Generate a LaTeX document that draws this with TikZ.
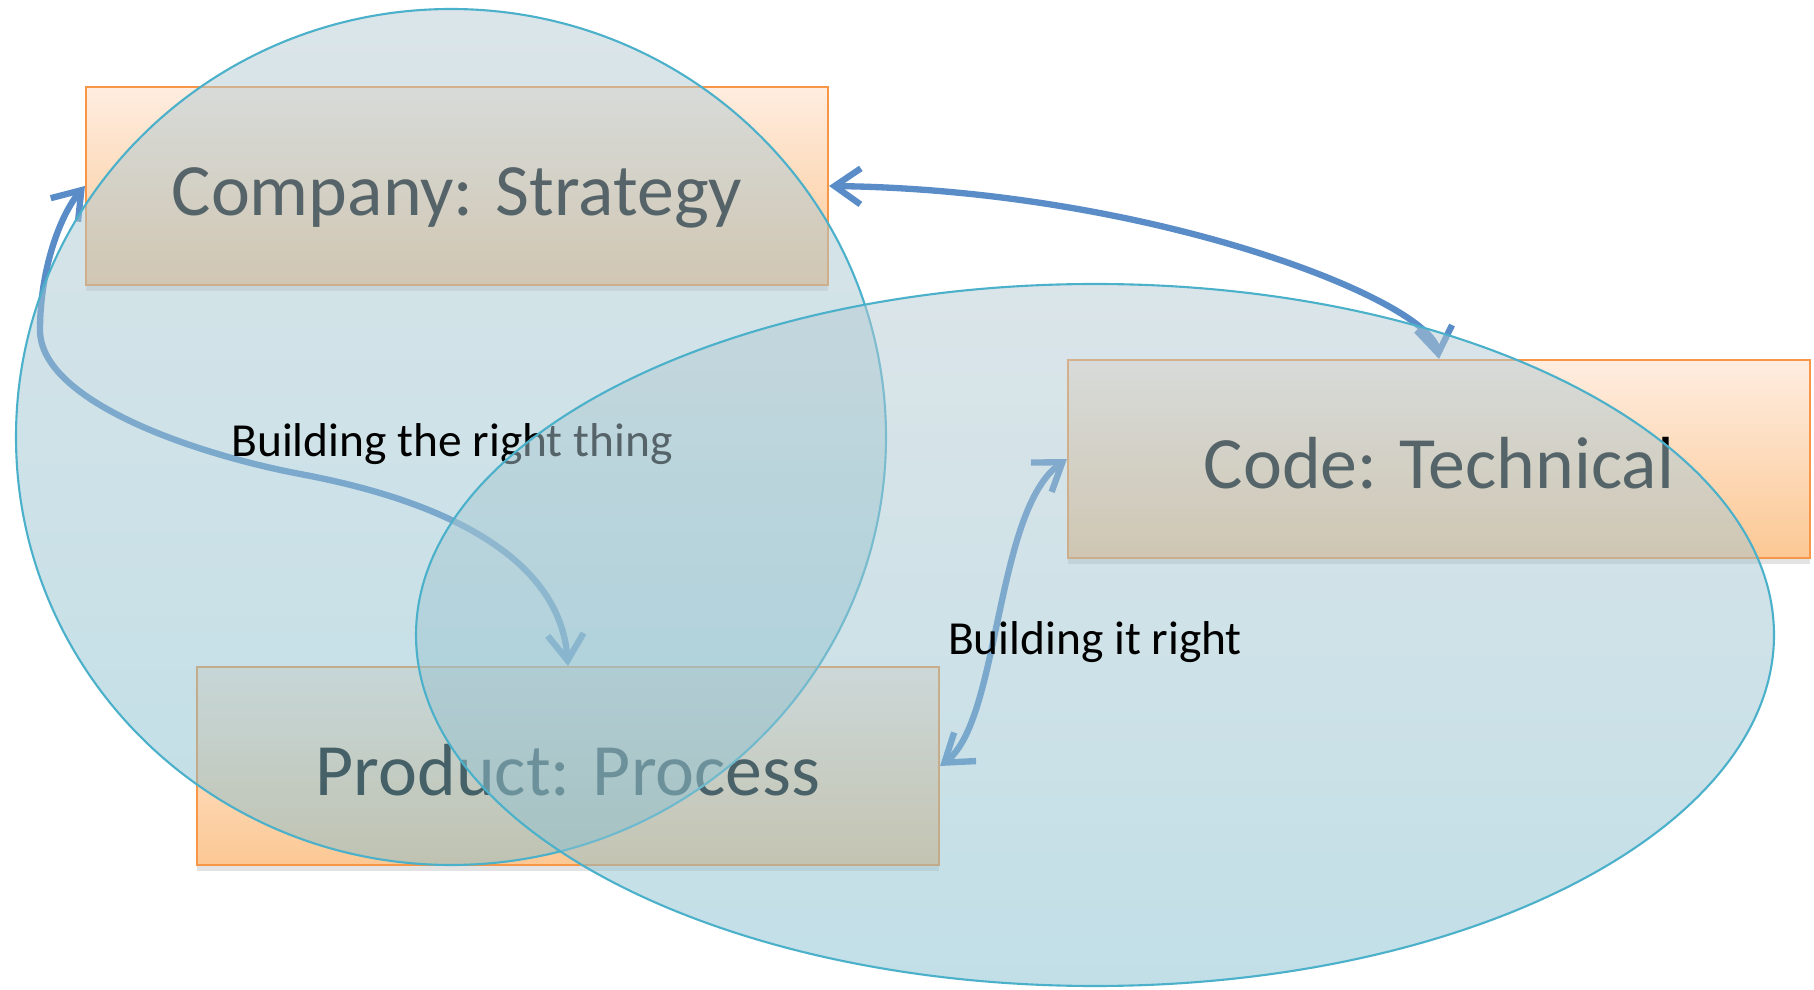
\documentclass[tikz,border=0pt]{standalone}
\usepackage{fontspec}
\setmainfont{Carlito}
\usetikzlibrary{arrows.meta,shadows}
\definecolor{arrowblue}{HTML}{5A8DC8}
\definecolor{boxtop}{HTML}{FEEDE0}
\definecolor{boxbot}{HTML}{FCC894}
\definecolor{boxline}{HTML}{F79646}
\definecolor{ellline}{HTML}{4BB0CA}
\definecolor{elltop}{HTML}{B7CBD3}
\definecolor{ellbot}{HTML}{85BFCF}
\tikzset{
  areabox/.style={rectangle, draw=boxline, line width=0.6pt, top color=boxtop, bottom color=boxbot,
    minimum width=74.2mm, minimum height=19.8mm, inner sep=0pt,
    font=\fontsize{21}{25}\selectfont, text height=6mm, text depth=0mm,
    drop shadow={opacity=0.22, shadow xshift=0mm, shadow yshift=-0.6mm}},
  link/.style={draw=arrowblue, line width=1.8pt,
    {Straight Barb[length=2.6mm,width=3.6mm]}-{Straight Barb[length=2.6mm,width=3.6mm]}},
  zone/.style={draw=ellline, line width=0.6pt, top color=elltop, bottom color=ellbot, fill opacity=0.5},
  tag/.style={font=\fontsize{13.5}{16}\selectfont, anchor=base, inner sep=0pt}
}
\begin{document}
\begin{tikzpicture}[x=0.1mm, y=-0.1mm]
\useasboundingbox (0,0) rectangle (1814,990);
% boxes
\node[areabox] (co) at (457,186) {Company: Strategy};
\node[areabox] (cd) at (1439,459) {Code: Technical};
\node[areabox] (pr) at (568,766) {Product: Process};
% connectors
\draw[link] (co.east) .. controls (1150,190) and (1430,300) .. (cd.north);
\draw[link] (pr.north) .. controls (560,560) and (450,502) .. (300,474)
   .. controls (190,453) and (40,400) .. (40,330)
   .. controls (40,270) and (60,215) .. (co.west);
\draw[link] (pr.east) .. controls (1000,720) and (995,510) .. (cd.west);
% first ellipse and its label
\path[zone] (451,437) ellipse [x radius=43.5mm, y radius=42.8mm];
\node[tag] (thing) at (452,457) {Building the right thing};
% second ellipse and its label
\path[zone] (1095,635) ellipse [x radius=67.9mm, y radius=35.1mm];
\node[tag] (right) at (1095,655) {Building it right};
\end{tikzpicture}
\end{document}
